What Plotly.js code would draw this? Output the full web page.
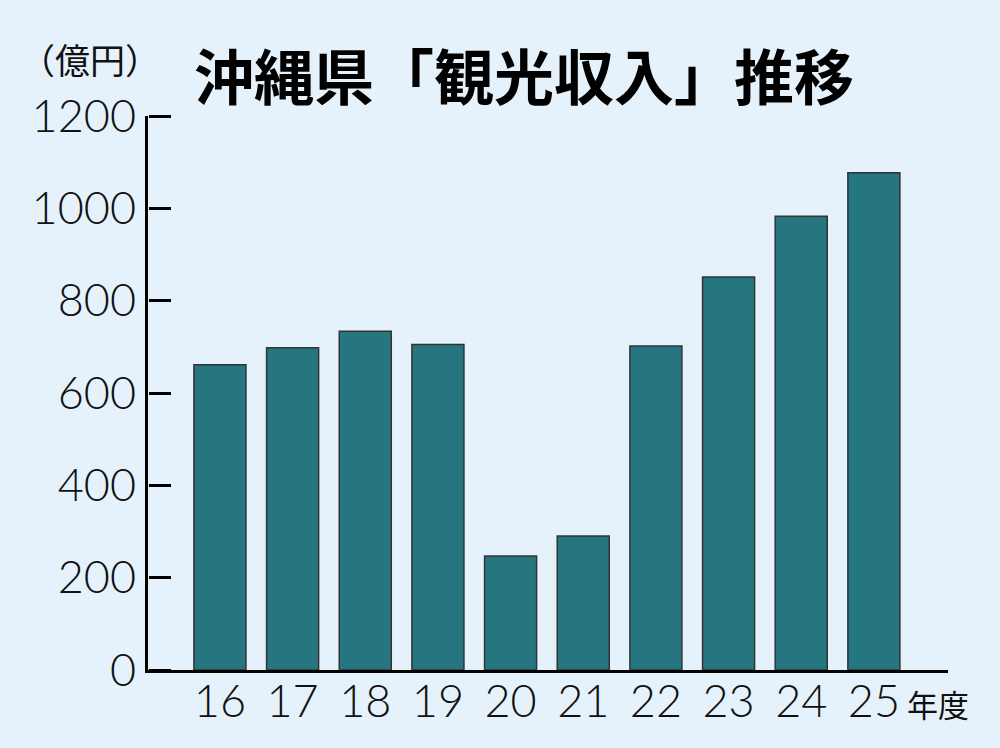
<!DOCTYPE html>
<html>
<head>
<meta charset="utf-8">
<script src="https://cdn.plot.ly/plotly-3.0.1.min.js"></script>
<style>
html,body{margin:0;padding:0;background:#e6f2fb;}
#chart{width:1000px;height:748px;}
</style>
</head>
<body>
<div id="chart"></div>
<script>
const years = ['16','17','18','19','20','21','22','23','24','25'];
const revenue = [661, 698, 734, 705, 247, 290, 702, 851, 983, 1077];
const yTicks = [0, 200, 400, 600, 800, 1000, 1200];
const titleText = '沖縄県「観光収入」推移';
const unitText = '（億円）';
const xUnitText = '年度';

const numFont = {family: 'Lato, "Noto Sans", sans-serif', size: 45, color: '#111', weight: 300};
const cjk = '"Noto Sans CJK JP", sans-serif';

const trace = {
  type: 'bar',
  x: years,
  y: revenue,
  width: 0.716,
  marker: {color: '#267682', line: {color: '#333', width: 1.5}},
  hoverinfo: 'x+y'
};

// invisible helper trace on a second y axis that only carries the right-pointing ticks
const tickTrace = {
  type: 'bar', x: years, y: revenue, yaxis: 'y2', width: 0.716,
  marker: {color: 'rgba(0,0,0,0)', line: {width: 0}}, hoverinfo: 'skip'
};

const layout = {
  width: 1000, height: 748,
  paper_bgcolor: '#e6f2fb', plot_bgcolor: '#e6f2fb',
  margin: {l: 148, r: 52, t: 116, b: 78},
  showlegend: false,
  xaxis: {
    type: 'category', range: [-0.99, 10.02],
    showline: true, linecolor: '#000', linewidth: 3,
    ticks: '', showgrid: false, zeroline: false,
    tickfont: numFont, ticklabelstandoff: -10, fixedrange: true
  },
  yaxis: {
    range: [0, 1200], tickvals: yTicks, ticktext: yTicks.map(String),
    showline: true, linecolor: '#000', linewidth: 3,
    ticks: '', showgrid: false, zeroline: false,
    tickfont: numFont, fixedrange: true
  },
  yaxis2: {
    range: [0, 1200], tickvals: yTicks, overlaying: 'y', side: 'right',
    anchor: 'free', position: 0,
    showline: false, ticks: 'outside', ticklen: 22, tickwidth: 3, tickcolor: '#000',
    showticklabels: false, showgrid: false, zeroline: false, fixedrange: true
  },
  annotations: []
};

const plotL = 148, plotR = 948, plotT = 116, plotB = 670;
const notes = [
  {text: titleText, px: 524, py: 73, font: {family: cjk, size: 60, color: '#000', weight: 700}},
  {text: unitText, px: 90, py: 58, font: {family: cjk, size: 35, color: '#111'}},
  {text: xUnitText, px: 938, py: 703, font: {family: cjk, size: 31, color: '#111'}}
];
notes.forEach(n => layout.annotations.push({
  text: n.text, xref: 'paper', yref: 'paper',
  x: (n.px - plotL) / (plotR - plotL), y: (plotB - n.py) / (plotB - plotT),
  xanchor: 'center', yanchor: 'middle', showarrow: false, font: n.font
}));

Plotly.newPlot('chart', [trace, tickTrace], layout, {displayModeBar: false, staticPlot: true});
</script>
</body>
</html>
